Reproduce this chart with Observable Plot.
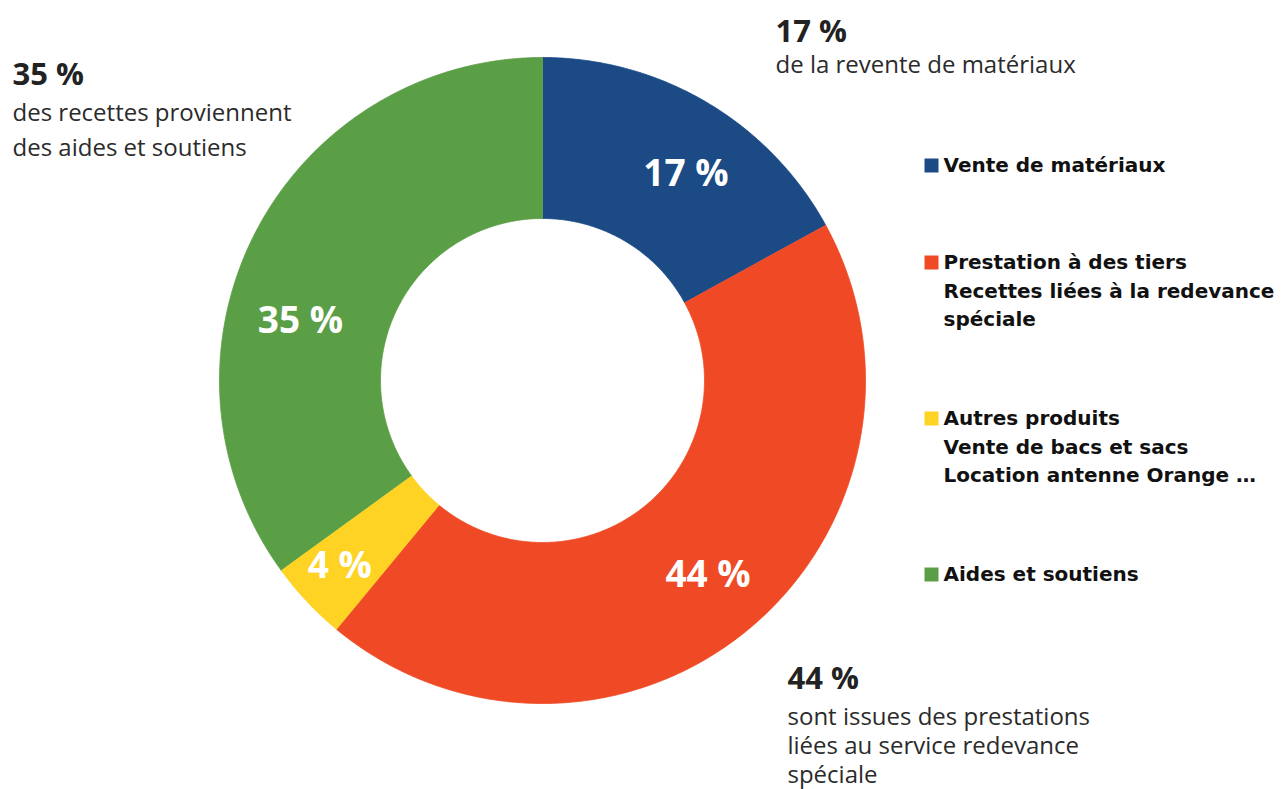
<!DOCTYPE html>
<html>
<head>
<meta charset="utf-8">
<script src="https://cdn.jsdelivr.net/npm/d3@7"></script>
<script src="https://cdn.jsdelivr.net/npm/@observablehq/plot@0.6"></script>
<style>
  html, body { margin: 0; padding: 0; background: #fff; }
  #chart svg { display: block; }
</style>
</head>
<body>
<div id="chart"></div>
<script>
// ---- Data ----
const categories = ["Vente de matériaux", "Prestation à des tiers", "Autres produits", "Aides et soutiens"];
const shares = [17, 44, 4, 35];
const sliceLabels = ["17 %", "44 %", "4 %", "35 %"];
const colors = ["#1b4a85", "#ef4a25", "#fed324", "#5a9e45"];
const legendLabels = [
  "Vente de matériaux",
  "Prestation à des tiers\nRecettes liées à la redevance\nspéciale",
  "Autres produits\nVente de bacs et sacs\nLocation antenne Orange …",
  "Aides et soutiens"
];
const calloutValues = ["35 %", "17 %", "44 %"];
const calloutTexts = [
  "des recettes proviennent\ndes aides et soutiens",
  "de la revente de matériaux",
  "sont issues des prestations\nliées au service redevance\nspéciale"
];

// ---- Layout (pixel frame) ----
const W = 1285, H = 789;
const cx = 542, cy = 380, R = 323, r0 = 162;
const labelNudge = [[20, 2], [11, 8], [-26, 20], [-26, 51]];
const legendX = 931, legendTextX = 943;
const legendY = [165, 262, 418, 574];
const legendFontSize = 20, legendLineHeight = 28.5;

// ---- Geometry from data via d3.pie ----
const pie = d3.pie().sort(null).value(d => d.value).startAngle(0).endAngle(2 * Math.PI);
const slices = pie(categories.map((c, i) => ({cat: c, value: shares[i], label: sliceLabels[i], i})));
const pt = (a, rad) => ({x: cx + rad * Math.sin(a), y: cy - rad * Math.cos(a)});
const ring = [];
for (const s of slices) {
  const n = Math.max(2, Math.ceil((s.endAngle - s.startAngle) / (Math.PI / 360)));
  for (let k = 0; k <= n; k++) {
    const a = s.startAngle + (s.endAngle - s.startAngle) * k / n;
    ring.push({cat: s.data.cat, ...pt(a, R)});
  }
  for (let k = n; k >= 0; k--) {
    const a = s.startAngle + (s.endAngle - s.startAngle) * k / n;
    ring.push({cat: s.data.cat, ...pt(a, r0)});
  }
}
const labelRows = slices.map(s => {
  const c = pt((s.startAngle + s.endAngle) / 2, (R + r0) / 2);
  const [dx, dy] = labelNudge[s.data.i];
  return {label: s.data.label, x: c.x + dx, y: c.y + dy};
});

const legendRows = categories.map((c, i) => ({cat: c, text: legendLabels[i], y: legendY[i]}));

// callouts: value + text; positions in layout
const calloutLayout = [
  {x: 12, valueY: 84, textY: 155, lh: 35 / 24},
  {x: 775, valueY: 41, textY: 72, lh: 29 / 24},
  {x: 787, valueY: 688, textY: 782, lh: 29 / 24}
];
const callouts = calloutValues.map((v, i) => ({value: v, text: calloutTexts[i], ...calloutLayout[i]}));

const openSans = "'Open Sans', 'Noto Sans', sans-serif";
const legendFont = "'DejaVu Sans', Verdana, sans-serif";

const chart = Plot.plot({
  width: W,
  height: H,
  margin: 0,
  x: {domain: [0, W], range: [0, W], axis: null},
  y: {domain: [0, H], range: [0, H], axis: null},
  color: {domain: categories, range: colors},
  style: {background: "#fff"},
  marks: [
    Plot.line(ring, {x: "x", y: "y", z: "cat", fill: "cat", stroke: "cat", strokeWidth: 0.8, curve: "linear"}),
    Plot.text(labelRows, {x: "x", y: "y", text: "label", fill: "white", fontSize: 37, fontWeight: "bold",
      fontFamily: openSans, textAnchor: "middle", lineAnchor: "middle"}),
    Plot.dot(legendRows, {x: legendX, y: "y", fill: "cat", symbol: "square", r: 14 / Math.sqrt(Math.PI), stroke: null}),
    Plot.text(legendRows, {x: legendTextX, y: "y", text: "text", textAnchor: "start", lineAnchor: "top",
      dy: 7 - 0.71 * legendLineHeight, lineHeight: legendLineHeight / legendFontSize, fontSize: legendFontSize,
      fontWeight: "bold", fontFamily: legendFont, fill: "#111", letterSpacing: "0.3px"}),
    Plot.text(callouts, {x: "x", y: "valueY", text: "value", textAnchor: "start", lineAnchor: "bottom",
      fontSize: 31, fontWeight: "bold", fontFamily: openSans, fill: "#222"}),
    Plot.text(callouts.filter((d, i) => i === 0), {x: "x", y: "textY", text: "text", textAnchor: "start", lineAnchor: "bottom",
      fontSize: 24, lineHeight: 35 / 24, fontFamily: openSans, fill: "#2b2b2b"}),
    Plot.text(callouts.filter((d, i) => i !== 0), {x: "x", y: "textY", text: "text", textAnchor: "start", lineAnchor: "bottom",
      fontSize: 24, lineHeight: 29 / 24, fontFamily: openSans, fill: "#2b2b2b"})
  ]
});
document.getElementById("chart").append(chart);
</script>
</body>
</html>
